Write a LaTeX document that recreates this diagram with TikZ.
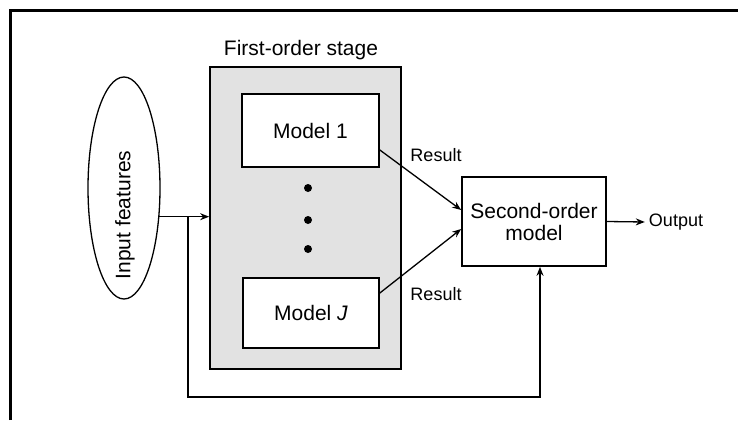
\documentclass[tikz,border=0pt]{standalone}
\usepackage{fontspec}
\setmainfont{Liberation Sans}
\usepackage{tikz}
\usetikzlibrary{positioning, shapes, arrows.meta}
\definecolor{StageGray}{RGB}{226, 226, 226}

\tikzset{
  box/.style={draw, line width=1.7pt, fill=white, inner sep=0pt},
  arr/.style={line width=1.3pt, -{Stealth[length=9pt, width=7pt]}},
  bigtxt/.style={font=\fontsize{21}{24}\selectfont},
  smalltxt/.style={font=\fontsize{18}{20}\selectfont}
}

\begin{document}
\begin{tikzpicture}[x=1pt, y=-1pt]
    \useasboundingbox (0,0) rectangle (738,420);

    % Frame
    \draw[line width=3pt] (10,420) -- (10,11) -- (738,11);

    % Input ellipse
    \node[draw, ellipse, line width=1.3pt, minimum width=72pt, minimum height=222pt] (input) at (124,188) {};
    \node[bigtxt, rotate=90] (inputtxt) at (125,215) {Input features};

    % First-order stage
    \node[box, fill=StageGray, minimum width=191pt, minimum height=302pt] (stage) at (305.5,218) {};
    \node[bigtxt] (stagetxt) at (301,50) {First-order stage};

    \node[box, bigtxt, minimum width=137pt, minimum height=73pt] (model1) at (310.5,130.5) {Model 1};
    \node[box, bigtxt, minimum width=136pt, minimum height=70pt] (modelJ) at (311,313) {Model \textit{J}};

    % Dots between the models
    \foreach \y [count=\i] in {188, 220, 249}
        \fill (308,\y) circle (4pt) coordinate (dot\i);

    % Second-order model
    \node[box, bigtxt, align=center, minimum width=144pt, minimum height=89pt] (second) at (534,221.5) {Second-order\\[-2pt]model};
    \node[smalltxt, inner sep=4pt] (output) at (676,222) {Output};

    % Connections
    \coordinate (split) at (188,217);
    \coordinate (fb) at (540,397);
    \draw[arr] (input.-39) -- (input.-39 -| stage.west);
    \draw[arr] (split) |- (fb) -- (fb |- second.south);
    \draw[arr] ([yshift=-19.5pt]model1.east) -- ([yshift=11.5pt]second.west);
    \draw[arr] ([yshift=20pt]modelJ.east) -- ([yshift=-7.5pt]second.west);
    \draw[arr] (second.east) -- (output.west);

    % Result labels
    \node[smalltxt] (res1) at (436,155) {Result};
    \node[smalltxt] (resJ) at (436,294) {Result};
\end{tikzpicture}
\end{document}
